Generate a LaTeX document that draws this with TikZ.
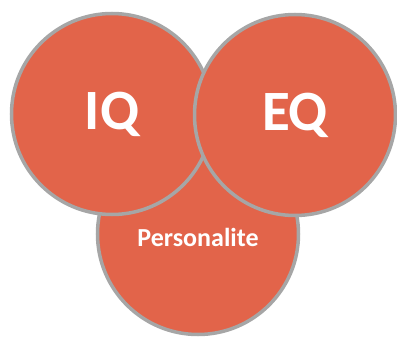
\documentclass[tikz,border=0pt]{standalone}
\usepackage{fontspec}
\setmainfont{Carlito}
\definecolor{ballfill}{HTML}{E2644A}
\definecolor{ballline}{HTML}{A6A6A6}

\begin{document}
\begin{tikzpicture}[x=1pt,y=-1pt]
    \tikzstyle{ball}=[draw=ballline,fill=ballfill,circle,line width=3.5pt,minimum size=201pt,inner sep=0pt,text=white,font=\bfseries]
    \useasboundingbox (0,0) rectangle (397,337);
    \node[ball,font=\bfseries\fontsize{26}{28}\selectfont,text height=26pt] (pers) at (198,234) {Personalite};
    \node[ball,font=\bfseries\fontsize{57}{60}\selectfont] (iq) at (112,114) {IQ};
    \node[ball,font=\bfseries\fontsize{57}{60}\selectfont] (eq) at (295,115) {EQ};
\end{tikzpicture}
\end{document}
